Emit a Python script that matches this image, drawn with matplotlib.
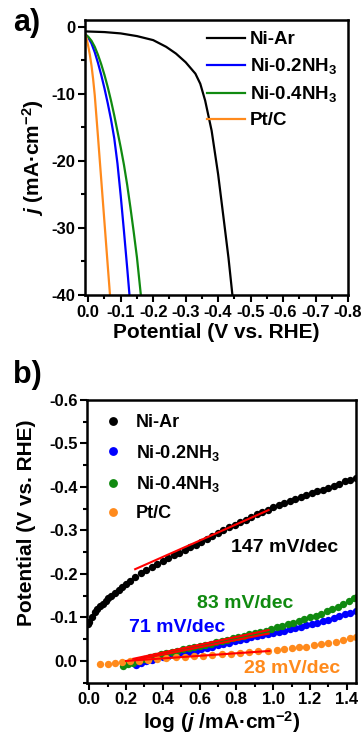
import matplotlib
matplotlib.use("Agg")
import matplotlib.pyplot as plt
from matplotlib.ticker import MultipleLocator, FormatStrFormatter

plt.rcParams["font.family"] = ["Liberation Sans", "DejaVu Sans"]
plt.rcParams["font.weight"] = "bold"
plt.rcParams["axes.unicode_minus"] = False
plt.rcParams["mathtext.fontset"] = "custom"
plt.rcParams["mathtext.rm"] = "Liberation Sans:bold"
plt.rcParams["mathtext.bf"] = "Liberation Sans:bold"
plt.rcParams["mathtext.it"] = "Liberation Sans:italic:bold"
plt.rcParams["mathtext.default"] = "rm"

labels = ["Ni-Ar", "Ni-0.2NH$_3$", "Ni-0.4NH$_3$", "Pt/C"]
colors = ["black", "#0000ff", "#108a10", "#ff8a1c"]

# ---- panel a: polarisation curves (V vs RHE, mA/cm2) ----
v_ar = [0.01, -0.05, -0.10, -0.15, -0.20, -0.24, -0.27, -0.30, -0.33, -0.345, -0.36, -0.38, -0.40, -0.418, -0.432, -0.444]
j_ar = [-0.7, -0.8, -1.0, -1.4, -2.0, -3.0, -4.0, -5.3, -7.0, -8.5, -11.0, -15.5, -22.0, -29.0, -34.5, -40.0]
v_02 = [0.01, 0.0, -0.01, -0.02, -0.03, -0.04, -0.05, -0.06, -0.07, -0.08, -0.09, -0.10, -0.11, -0.12, -0.127]
j_02 = [-1.1, -1.6, -2.5, -3.8, -5.4, -7.2, -9.2, -11.4, -13.8, -16.6, -20.4, -25.2, -30.5, -36.0, -40.0]
v_04 = [0.01, 0.0, -0.01, -0.02, -0.03, -0.04, -0.05, -0.06, -0.07, -0.08, -0.09, -0.10, -0.11, -0.12, -0.13, -0.14, -0.15, -0.162]
j_04 = [-1.1, -1.5, -2.1, -3.0, -4.2, -5.6, -7.2, -9.0, -11.0, -13.2, -15.6, -18.0, -20.6, -23.6, -27.0, -30.6, -34.4, -40.0]
v_pt = [0.01, 0.005, 0.0, -0.005, -0.01, -0.015, -0.02, -0.03, -0.04, -0.05, -0.06, -0.067]
j_pt = [-1.0, -1.8, -2.9, -4.2, -5.8, -7.8, -10.2, -16.4, -22.8, -29.2, -35.6, -40.0]

# ---- panel b: Tafel plots (log j, V vs RHE) ----
x_ar = [-0.005, 0.0, 0.015, 0.03, 0.045, 0.06, 0.075, 0.09, 0.105, 0.12, 0.14, 0.16, 0.18, 0.20, 0.22,
        0.25, 0.28, 0.31, 0.34, 0.37, 0.40, 0.43, 0.46, 0.49, 0.52, 0.55, 0.58, 0.61, 0.64, 0.67,
        0.70, 0.73, 0.76, 0.79, 0.82, 0.85, 0.88, 0.91, 0.94, 0.97, 1.00, 1.03, 1.06, 1.09, 1.12,
        1.15, 1.18, 1.21, 1.24, 1.27, 1.30, 1.33, 1.36, 1.39, 1.42, 1.45]
y_ar = [-0.085, -0.089, -0.101, -0.112, -0.119, -0.126, -0.132, -0.138, -0.144, -0.149, -0.156, -0.163, -0.170, -0.177, -0.184,
        -0.194, -0.202, -0.210, -0.217, -0.224, -0.230, -0.236, -0.243, -0.249, -0.255, -0.261, -0.267, -0.274, -0.280, -0.287,
        -0.294, -0.301, -0.307, -0.313, -0.319, -0.325, -0.331, -0.337, -0.342, -0.348, -0.353, -0.358, -0.363, -0.368, -0.373,
        -0.378, -0.382, -0.386, -0.390, -0.394, -0.398, -0.403, -0.408, -0.413, -0.417, -0.421]
x_02 = [0.255, 0.28, 0.31, 0.34, 0.37, 0.40, 0.43, 0.46, 0.49, 0.52, 0.55, 0.58, 0.61, 0.64, 0.67, 0.70,
        0.73, 0.76, 0.79, 0.82, 0.85, 0.88, 0.91, 0.94, 0.97, 1.00, 1.03, 1.06, 1.09, 1.12, 1.15, 1.18,
        1.21, 1.24, 1.27, 1.30, 1.33, 1.36, 1.39, 1.42, 1.45]
y_02 = [0.010, 0.004, 0.000, -0.003, -0.006, -0.009, -0.011, -0.014, -0.016, -0.019, -0.021, -0.024, -0.027, -0.030, -0.033, -0.036,
        -0.039, -0.042, -0.045, -0.048, -0.051, -0.054, -0.057, -0.060, -0.063, -0.065, -0.067, -0.070, -0.073, -0.076, -0.079, -0.082,
        -0.085, -0.088, -0.092, -0.095, -0.099, -0.103, -0.107, -0.111, -0.115]
x_04 = [0.185, 0.21, 0.24, 0.27, 0.30, 0.33, 0.36, 0.39, 0.42, 0.45, 0.48, 0.51, 0.54, 0.57, 0.60, 0.63, 0.66,
        0.69, 0.72, 0.75, 0.78, 0.81, 0.84, 0.87, 0.90, 0.93, 0.96, 0.99, 1.02, 1.05, 1.08, 1.11, 1.14, 1.17,
        1.20, 1.23, 1.26, 1.29, 1.32, 1.35, 1.38, 1.41, 1.44, 1.46]
y_04 = [0.011, 0.008, 0.004, 0.000, -0.004, -0.008, -0.012, -0.015, -0.018, -0.021, -0.024, -0.027, -0.029, -0.032, -0.034, -0.037, -0.040,
        -0.043, -0.046, -0.049, -0.052, -0.055, -0.058, -0.061, -0.064, -0.067, -0.070, -0.073, -0.077, -0.080, -0.084, -0.088, -0.092, -0.096,
        -0.100, -0.104, -0.109, -0.114, -0.119, -0.125, -0.131, -0.137, -0.144, -0.149]
x_pt = [0.06, 0.10, 0.14, 0.18, 0.22, 0.27, 0.32, 0.37, 0.42, 0.47, 0.52, 0.57, 0.62, 0.67, 0.72, 0.77,
        0.82, 0.87, 0.92, 0.97, 1.02, 1.06, 1.10, 1.14, 1.18, 1.22, 1.26, 1.30, 1.34, 1.38, 1.42, 1.45]
y_pt = [0.008, 0.007, 0.005, 0.003, 0.001, -0.001, -0.003, -0.005, -0.007, -0.009, -0.010, -0.011, -0.012, -0.014, -0.016, -0.017,
        -0.019, -0.021, -0.023, -0.024, -0.025, -0.027, -0.029, -0.031, -0.033, -0.036, -0.038, -0.041, -0.044, -0.048, -0.052, -0.055]

# linear Tafel fits: (x0, y0, x1, y1)
fit_ar = [0.25, -0.211, 0.975, -0.347]
fit_02 = [0.25, -0.002, 0.975, -0.063]
fit_04 = [0.24, -0.005, 0.975, -0.071]
fit_pt = [0.20, 0.000, 0.98, -0.023]
slopes = ["147 mV/dec", "71 mV/dec", "83 mV/dec", "28 mV/dec"]
slope_pos = [(0.77, -0.262), (0.215, -0.078), (0.585, -0.132), (0.84, 0.018)]


def style_axes(ax):
    for s in ax.spines.values():
        s.set_linewidth(1.8)
    ax.tick_params(which="both", direction="out", width=1.5, top=False, right=False)
    ax.tick_params(which="major", length=5, labelsize=12, pad=2)
    ax.tick_params(which="minor", length=3)
    for t in ax.get_xticklabels() + ax.get_yticklabels():
        t.set_fontweight("bold")


fig = plt.figure(figsize=(3.63, 7.35), dpi=100)

# panel a
ax1 = fig.add_axes([85 / 363, 1 - 295 / 735, 263 / 363, 275 / 735])
for v, j, c, lab in zip([v_ar, v_02, v_04, v_pt], [j_ar, j_02, j_04, j_pt], colors, labels):
    ax1.plot(v, j, color=c, lw=1.6, label=lab)
ax1.set_xlim(0.01, -0.8)
ax1.set_ylim(-40, 1)
ax1.xaxis.set_major_locator(MultipleLocator(0.1))
ax1.xaxis.set_minor_locator(MultipleLocator(0.05))
ax1.yaxis.set_major_locator(MultipleLocator(10))
ax1.yaxis.set_minor_locator(MultipleLocator(5))
ax1.xaxis.set_major_formatter(FormatStrFormatter("%.1f"))
style_axes(ax1)
ax1.set_xlabel("Potential (V vs. RHE)", fontsize=15, fontweight="bold", labelpad=2)
ax1.set_ylabel(r"$\mathit{j}$ (mA·cm$^{-2}$)", fontsize=15, fontweight="bold", labelpad=4)
ax1.legend(loc="upper right", frameon=False, handlelength=2.0, handletextpad=0.25,
           labelspacing=0.42, borderaxespad=0.2, prop={"weight": "bold", "size": 13.5})

# panel b
ax2 = fig.add_axes([87.3 / 363, 1 - 682.7 / 735, 268.7 / 363, 282.7 / 735])
for x, y, c, lab in zip([x_ar, x_02, x_04, x_pt], [y_ar, y_02, y_04, y_pt], colors, labels):
    ax2.plot(x, y, "o", color=c, ms=5.3, mec="none", label=lab)
for f in [fit_ar, fit_04, fit_02, fit_pt]:
    ax2.plot([f[0], f[2]], [f[1], f[3]], color="red", lw=1.5)
for txt, (tx, ty), c in zip(slopes, slope_pos, colors):
    ax2.text(tx, ty, txt, color=c, fontsize=14, fontweight="bold", ha="left", va="center")
ax2.set_xlim(-0.01, 1.45)
ax2.set_ylim(0.05, -0.6)
ax2.xaxis.set_major_locator(MultipleLocator(0.2))
ax2.xaxis.set_minor_locator(MultipleLocator(0.1))
ax2.yaxis.set_major_locator(MultipleLocator(0.1))
ax2.yaxis.set_minor_locator(MultipleLocator(0.05))
ax2.xaxis.set_major_formatter(FormatStrFormatter("%.1f"))
ax2.yaxis.set_major_formatter(FormatStrFormatter("%.1f"))
style_axes(ax2)
ax2.set_xlabel(r"log ($\mathit{j}$ /mA·cm$^{-2}$)", fontsize=15, fontweight="bold", labelpad=1)
ax2.set_ylabel("Potential (V vs. RHE)", fontsize=15, fontweight="bold", labelpad=4)
ax2.yaxis.set_label_coords(-0.19, 0.567)
ax2.legend(loc="upper left", frameon=False, numpoints=1, markerscale=1.2, handlelength=1.2,
           handletextpad=0.7, labelspacing=0.62, borderaxespad=0.3, borderpad=0.5,
           prop={"weight": "bold", "size": 13})

fig.text(13 / 363, 1 - 8 / 735, "a)", fontsize=22, fontweight="bold", ha="left", va="top")
fig.text(13 / 363, 1 - 360 / 735, "b)", fontsize=22, fontweight="bold", ha="left", va="top")

fig.savefig("out.png", dpi=100)
